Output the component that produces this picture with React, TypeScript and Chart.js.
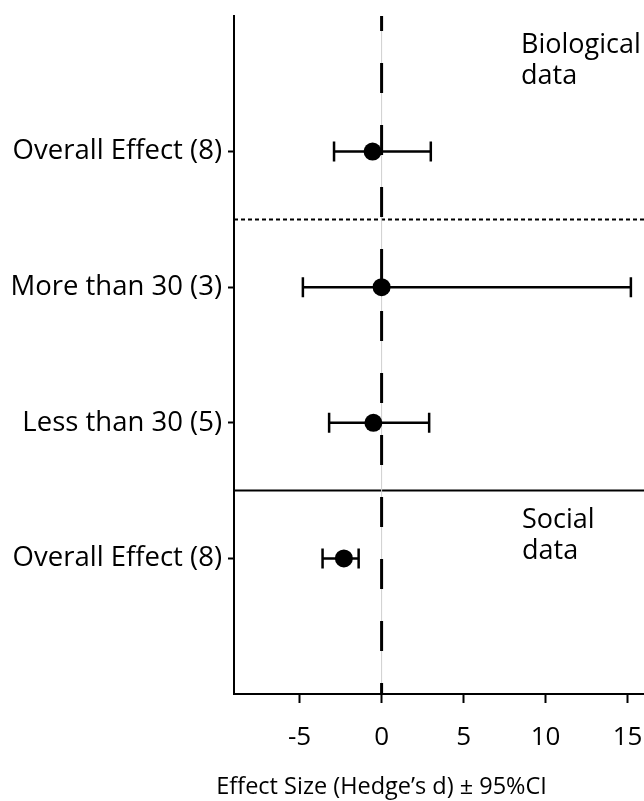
import React, { useEffect, useRef } from "react";
import { Chart, registerables } from "chart.js";
Chart.register(...registerables);

const categories = ["Overall Effect (8)", "More than 30 (3)", "Less than 30 (5)", "Overall Effect (8)"];
const rowPos = [8, 6, 4, 2];
const effect = [-0.55, 0.0, -0.5, -2.3];
const ciLow = [-2.9, -4.8, -3.2, -3.6];
const ciHigh = [3.0, 15.2, 2.9, -1.4];
const xTicks = [-5, 0, 5, 10, 15];
const dottedSep = 7;
const solidSep = 3;
const FONT = "'Open Sans', 'Noto Sans', sans-serif";

export default function App() {
  const ref = useRef<HTMLCanvasElement>(null);
  useEffect(() => {
    document.body.style.margin = "0";
    const canvas = ref.current!;
    const overlay = {
      id: "forest",
      beforeDatasetsDraw(chart: any) {
        const { ctx, chartArea, scales } = chart;
        const xs = scales.x, ys = scales.y;
        ctx.save();
        ctx.strokeStyle = "#000";
        ctx.lineWidth = 2;
        ctx.setLineDash([4, 3]);
        let y = ys.getPixelForValue(dottedSep);
        ctx.beginPath(); ctx.moveTo(chartArea.left, y); ctx.lineTo(chartArea.right, y); ctx.stroke();
        ctx.setLineDash([]);
        y = ys.getPixelForValue(solidSep);
        ctx.beginPath(); ctx.moveTo(chartArea.left, y); ctx.lineTo(chartArea.right, y); ctx.stroke();
        const x0 = xs.getPixelForValue(0);
        ctx.strokeStyle = "#cfcfcf";
        ctx.lineWidth = 1;
        ctx.beginPath(); ctx.moveTo(x0, chartArea.top); ctx.lineTo(x0, chartArea.bottom); ctx.stroke();
        ctx.strokeStyle = "#000";
        ctx.lineWidth = 3;
        ctx.setLineDash([30, 32]);
        ctx.lineDashOffset = 15;
        ctx.beginPath(); ctx.moveTo(x0, chartArea.top); ctx.lineTo(x0, chartArea.bottom); ctx.stroke();
        ctx.setLineDash([]);
        ctx.lineWidth = 2.5;
        for (let i = 0; i < rowPos.length; i++) {
          const yy = ys.getPixelForValue(rowPos[i]);
          const a = xs.getPixelForValue(ciLow[i]);
          const b = xs.getPixelForValue(ciHigh[i]);
          ctx.beginPath();
          ctx.moveTo(a, yy); ctx.lineTo(b, yy);
          ctx.moveTo(a, yy - 10); ctx.lineTo(a, yy + 10);
          ctx.moveTo(b, yy - 10); ctx.lineTo(b, yy + 10);
          ctx.stroke();
        }
        ctx.restore();
      },
      afterDraw(chart: any) {
        const { ctx, scales } = chart;
        ctx.save();
        ctx.fillStyle = "#000";
        ctx.font = `27px ${FONT}`;
        ctx.textAlign = "left";
        ctx.textBaseline = "middle";
        ctx.fillText("Biological", 521, 45);
        ctx.fillText("data", 521, 76);
        ctx.fillText("Social", 522, 520);
        ctx.fillText("data", 522, 551);
        ctx.font = `23.5px ${FONT}`;
        ctx.textAlign = "center";
        ctx.fillText("Effect Size (Hedge\u2019s d) \u00b1 95%CI", scales.x.getPixelForValue(0), 787);
        ctx.restore();
      },
    };
    const chart = new Chart(canvas, {
      type: "scatter",
      data: {
        datasets: [
          {
            data: effect.map((v, i) => ({ x: v, y: rowPos[i] })),
            pointRadius: 9,
            pointBackgroundColor: "#000",
            pointBorderColor: "#000",
            pointBorderWidth: 0,
            clip: false,
          },
        ],
      },
      options: {
        animation: false,
        responsive: false,
        layout: { autoPadding: false, padding: { top: 16, right: 0, left: 0, bottom: 0 } },
        plugins: { legend: { display: false }, tooltip: { enabled: false } },
        scales: {
          x: {
            type: "linear",
            min: -9,
            max: 16,
            afterBuildTicks: (s: any) => { s.ticks = xTicks.map((v) => ({ value: v })); },
            afterFit: (s: any) => { s.height = 107; s.paddingRight = 0; s.paddingLeft = 0; },
            border: { color: "#000", width: 2 },
            grid: { drawOnChartArea: false, color: "#000", tickLength: 9, tickWidth: 2 },
            ticks: { color: "#000", font: { family: FONT, size: 26 }, padding: 19, maxRotation: 0 },
          },
          y: {
            type: "linear",
            min: 0,
            max: 10,
            afterBuildTicks: (s: any) => { s.ticks = rowPos.map((v) => ({ value: v })); },
            afterFit: (s: any) => { s.width = 234; s.paddingTop = 0; s.paddingBottom = 0; },
            border: { color: "#000", width: 2 },
            grid: { drawOnChartArea: false, color: "#000", tickLength: 6, tickWidth: 2 },
            ticks: {
              color: "#000",
              font: { family: FONT, size: 27.5 },
              padding: 6,
              callback: (v: any) => {
                const i = rowPos.indexOf(Number(v));
                return i >= 0 ? categories[i] : "";
              },
            },
          },
        },
      },
      plugins: [overlay],
    });
    return () => chart.destroy();
  }, []);
  return <canvas ref={ref} width={644} height={801} style={{ display: "block" }} />;
}
